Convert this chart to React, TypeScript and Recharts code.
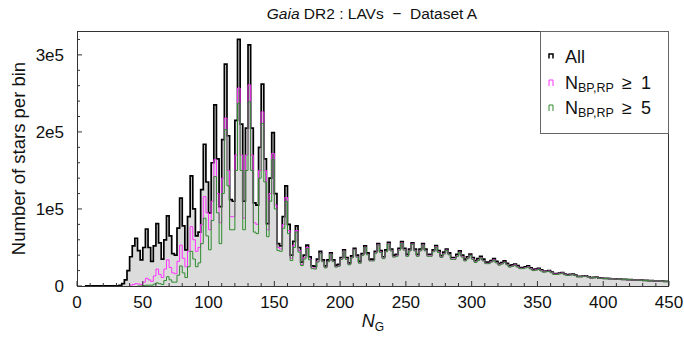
import React from 'react';
import { ComposedChart, Area, Line, XAxis, YAxis } from 'recharts';

// Bin start values of N_G (bin width 2, first bin is a wide near-empty bin)
const binStart = [
  6, 32, 34, 36, 38,
  40, 42, 44, 46, 48, 50, 52, 54, 56, 58,
  60, 62, 64, 66, 68, 70, 72, 74, 76, 78,
  80, 82, 84, 86, 88, 90, 92, 94, 96, 98,
  100, 102, 104, 106, 108, 110, 112, 114, 116, 118,
  120, 122, 124, 126, 128, 130, 132, 134, 136, 138,
  140, 142, 144, 146, 148, 150, 152, 154, 156, 158,
  160, 162, 164, 166, 168, 170, 172, 174, 176, 178,
  180, 182, 184, 186, 188, 190, 192, 194, 196, 198,
  200, 202, 204, 206, 208, 210, 212, 214, 216, 218,
  220, 222, 224, 226, 228, 230, 232, 234, 236, 238,
  240, 242, 244, 246, 248, 250, 252, 254, 256, 258,
  260, 262, 264, 266, 268, 270, 272, 274, 276, 278,
  280, 282, 284, 286, 288, 290, 292, 294, 296, 298,
  300, 302, 304, 306, 308, 310, 312, 314, 316, 318,
  320, 322, 324, 326, 328, 330, 332, 334, 336, 338,
  340, 342, 344, 346, 348, 350, 352, 354, 356, 358,
  360, 362, 364, 366, 368, 370, 372, 374, 376, 378,
  380, 382, 384, 386, 388, 390, 392, 394, 396, 398,
  400, 402, 404, 406, 408, 410, 412, 414, 416, 418,
  420, 422, 424, 426, 428, 430, 432, 434, 436, 438,
  440, 442, 444, 446, 448, 450,
];

// Stars per bin, in thousands
const allCounts = [
  0.3, 1, 3, 8, 20,
  38, 52, 62, 46, 34, 50, 74, 50, 32, 52,
  81, 56, 35, 60, 91, 65, 42, 40, 75, 114,
  78, 47, 90, 143, 100, 65, 70, 125, 184, 135,
  95, 160, 235, 165, 103, 190, 288, 195, 112, 110,
  215, 320, 210, 110, 205, 313, 205, 108, 105, 180,
  262, 165, 81, 140, 199, 120, 55, 52, 90, 130,
  80, 40, 58, 78, 50, 31, 40, 53, 38, 26,
  25.5, 35, 45, 34, 26, 34, 43, 34, 27, 28,
  37, 47, 37, 30, 39, 49, 40, 32, 42, 52,
  43, 35, 35, 45, 55, 46, 38, 47, 56.5, 48,
  40, 41, 49, 57.5, 49, 41, 48, 56, 48, 41,
  48, 55, 48, 41, 41, 47, 52.5, 46, 39.5, 44,
  48, 43, 37, 37, 41, 45.5, 40, 35, 38, 41.5,
  37, 33, 35.5, 38.5, 35, 31, 31, 33, 35.5, 32,
  29, 30.5, 32.5, 29.5, 26.5, 27.5, 28.5, 26.5, 24, 24,
  25, 26, 23.5, 21.5, 22, 23, 21, 19, 19.5, 20,
  18, 16, 16, 16.8, 17.5, 15.5, 14.5, 15, 15.5, 14,
  12.5, 12.5, 13, 13.3, 12, 11, 11.2, 11.5, 10.5, 10.2,
  10, 9.8, 9.5, 9.4, 9.2, 9, 8.9, 8.7, 8.6, 8.4,
  8.2, 8, 7.8, 7.7, 7.5, 7.3, 7.2, 7, 6.9, 6.7,
  6.5, 6.4, 6.2, 6.1, 6, 6,
];

const bp1Counts = [
  null, null, null, null, null,
  1, 2, 3, 2.5, 2, 5, 10, 8, 6, 13,
  22, 15, 11, 22, 34, 24, 17, 16, 32, 53,
  36, 25, 45, 77, 60, 45, 50, 80, 116, 95,
  73, 110, 164, 120, 82, 140, 218, 150, 90, 90,
  170, 257, 170, 88, 170, 261, 170, 82, 80, 150,
  226, 150, 73, 120, 172, 105, 50, 48, 80, 115,
  72, 36, 53, 72, 46, 28, 37, 50, 35, 23.5,
  23, 32, 42.5, 32, 24, 32, 41.5, 32, 25, 26,
  35, 45.5, 35, 28, 37, 47.5, 38, 30, 40, 50.5,
  41, 33, 33, 43, 53.5, 44, 36, 45, 55, 46,
  38, 39, 47, 56, 47, 39, 46, 54.5, 46, 39,
  46, 53.5, 46, 39, 39, 45, 51, 44, 37.5, 42,
  46.5, 41, 35, 35, 39, 44, 38, 33, 36, 40,
  35, 31, 33.5, 37, 33, 29.5, 29.5, 31.5, 34, 30.5,
  27.5, 29, 31, 28, 25, 26, 27.5, 25, 23, 23,
  24, 25, 22.5, 20.5, 21, 22, 20, 18.5, 19, 19.5,
  17.5, 15.5, 15.5, 16.3, 17, 15, 14, 14.5, 15, 13.6,
  12.2, 12.2, 12.7, 13, 11.8, 10.8, 11, 11.3, 10.3, 10.1,
  9.9, 9.7, 9.4, 9.3, 9.1, 8.9, 8.8, 8.6, 8.5, 8.3,
  8.1, 7.9, 7.7, 7.6, 7.4, 7.2, 7.1, 6.9, 6.8, 6.6,
  6.4, 6.3, 6.1, 6, 5.9, 5.9,
];

const bp5Counts = [
  null, null, null, null, null,
  null, null, null, 0, 0, 0.5, 1, 1, 1, 2.5,
  4, 3, 2, 7, 12, 8, 5, 5, 14, 26,
  17, 11, 25, 45, 35, 25, 30, 55, 88, 65,
  47, 85, 142, 95, 55, 120, 203, 130, 73, 73,
  150, 237, 150, 73, 150, 239, 150, 70, 68, 140,
  211, 135, 64, 110, 164, 100, 46, 45, 75, 110,
  68, 33, 50, 70, 44, 26.5, 35, 48.5, 34, 22.5,
  22, 31, 42, 31.5, 23.5, 31.5, 41, 31.5, 24.5, 25.5,
  34.5, 45, 34.5, 27.5, 36.5, 47, 37.5, 29.5, 39.5, 50,
  40.5, 32.5, 32.5, 42.5, 53, 43.5, 35.5, 44.5, 54.5, 45.5,
  37.5, 38.5, 46.5, 55.5, 46.5, 38.5, 45.5, 54, 45.5, 38.5,
  45.5, 53, 45.5, 38.5, 38.5, 44.5, 50.5, 43.5, 37, 41.5,
  46, 40.5, 34.5, 34.5, 38.5, 43.5, 37.5, 32.5, 35.5, 39.5,
  34.5, 30.5, 33, 36.5, 32.5, 29, 29, 31, 33.5, 30,
  27, 28.5, 30.5, 27.5, 24.5, 25.5, 27, 24.5, 22.5, 22.5,
  23.5, 24.5, 22, 20, 20.5, 21.5, 19.5, 18, 18.5, 19,
  17, 15, 15, 15.8, 16.5, 14.6, 13.7, 14.2, 14.7, 13.4,
  12, 12, 12.5, 12.8, 11.6, 10.7, 10.9, 11.2, 10.2, 10,
  9.8, 9.6, 9.4, 9.3, 9.1, 8.9, 8.8, 8.6, 8.5, 8.3,
  8.1, 7.9, 7.7, 7.6, 7.4, 7.2, 7.1, 6.9, 6.8, 6.6,
  6.4, 6.3, 6.1, 6, 5.9, 5.9,
];

const xTicks = [0, 10, 20, 30, 40, 50, 60, 70, 80, 90, 100, 110, 120, 130, 140, 150, 160, 170, 180, 190,
  200, 210, 220, 230, 240, 250, 260, 270, 280, 290, 300, 310, 320, 330, 340, 350, 360, 370, 380, 390,
  400, 410, 420, 430, 440, 450];
const yTicks = [0, 20, 40, 60, 80, 100, 120, 140, 160, 180, 200, 220, 240, 260, 280, 300, 320];
const yTickLabels: Record<number, string> = { 0: '0', 100: '1e5', 200: '2e5', 300: '3e5' };

const data = binStart.map((n, i) => ({ n, all: allCounts[i], bp1: bp1Counts[i], bp5: bp5Counts[i] }));

const FONT = '"Liberation Sans", Arial, sans-serif';
const PINK = '#ff33ff';
const GREEN = '#2e8b2e';

const XTick = (props: any) => {
  const { x, y, payload } = props;
  const v = payload.value;
  const major = v % 50 === 0;
  return (
    <g>
      <line x1={x} y1={y} x2={x} y2={y - (major ? 5 : 3)} stroke="#333" strokeWidth={1} />
      {major && (
        <text x={x} y={y + 22} textAnchor="middle" fontSize={17} fontFamily={FONT} fill="#111">
          {v}
        </text>
      )}
    </g>
  );
};

const YTick = (props: any) => {
  const { x, y, payload } = props;
  const v = payload.value;
  const label = yTickLabels[v];
  return (
    <g>
      <line x1={x} y1={y} x2={x + (label ? 5 : 3)} y2={y} stroke="#333" strokeWidth={1} />
      {label && (
        <text x={x - 13} y={y + 6} textAnchor="end" fontSize={17} fontFamily={FONT} fill="#111">
          {label}
        </text>
      )}
    </g>
  );
};

const PL = 77, PR = 669, PT = 31, PB = 286;

export default function App() {
  return (
    <div style={{ position: 'absolute', left: 0, top: 0, width: 684, height: 345, background: '#fff' }}>
      <ComposedChart
        width={684}
        height={345}
        data={data}
        margin={{ top: PT, right: 684 - PR, bottom: 345 - PB - 30, left: 0 }}
      >
        <XAxis
          dataKey="n"
          type="number"
          domain={[0, 450]}
          ticks={xTicks}
          interval={0}
          tick={<XTick />}
          tickSize={0}
          tickMargin={0}
          tickLine={false}
          axisLine={false}
          height={30}
          allowDataOverflow
        />
        <YAxis
          type="number"
          domain={[0, 331]}
          ticks={yTicks}
          interval={0}
          tick={<YTick />}
          tickSize={0}
          tickMargin={0}
          tickLine={false}
          axisLine={false}
          width={PL}
          allowDataOverflow
        />
        <Area
          dataKey="all"
          type="stepAfter"
          fill="#dcdcdc"
          fillOpacity={1}
          stroke="#000"
          strokeWidth={1.7}
          isAnimationActive={false}
          dot={false}
          activeDot={false}
        />
        <Line
          dataKey="bp1"
          type="stepAfter"
          stroke={PINK}
          strokeWidth={1}
          dot={false}
          activeDot={false}
          isAnimationActive={false}
        />
        <Line
          dataKey="bp5"
          type="stepAfter"
          stroke={GREEN}
          strokeWidth={1}
          dot={false}
          activeDot={false}
          isAnimationActive={false}
        />
      </ComposedChart>
      <svg
        width={684}
        height={345}
        style={{ position: 'absolute', left: 0, top: 0, pointerEvents: 'none' }}
        fontFamily={FONT}
      >
        <rect x={PL + 0.5} y={PT + 0.5} width={PR - PL - 1} height={PB - PT} fill="none" stroke="#333" strokeWidth={1} />
        <text x={372} y={19} textAnchor="middle" fontSize={15.5} fill="#111">
          <tspan fontStyle="italic">Gaia</tspan>
          {' DR2 : LAVs\u00a0 \u2212\u00a0 Dataset A'}
        </text>
        <text
          x={25}
          y={158.5}
          textAnchor="middle"
          fontSize={18.5}
          fill="#111"
          transform="rotate(-90 25 158.5)"
        >
          Number of stars per bin
        </text>
        <text x={373} y={327} textAnchor="middle" fontSize={18} fill="#111">
          <tspan fontStyle="italic">N</tspan>
          <tspan fontSize={12} dy={4}>G</tspan>
        </text>
        {/* Legend */}
        <rect x={540.5} y={31.5} width={128} height={102} fill="#fff" stroke="#666" strokeWidth={1} />
        <path d="M549,58.5 V54 H553 V58.5" fill="none" stroke="#000" strokeWidth={1.5} />
        <text x={565} y={63} fontSize={18} fill="#111">All</text>
        <path d="M549,86 V80 H553 V86" fill="none" stroke={PINK} strokeWidth={1} />
        <text x={565} y={88.5} fontSize={18} fill="#111">
          N<tspan fontSize={12.5} dy={3}>BP,RP</tspan>
          <tspan x={622} dy={-3}>{'\u2265'}</tspan>
          <tspan x={641}>1</tspan>
        </text>
        <path d="M549,111 V105 H553 V111" fill="none" stroke={GREEN} strokeWidth={1} />
        <text x={565} y={113.5} fontSize={18} fill="#111">
          N<tspan fontSize={12.5} dy={3}>BP,RP</tspan>
          <tspan x={622} dy={-3}>{'\u2265'}</tspan>
          <tspan x={641}>5</tspan>
        </text>
      </svg>
    </div>
  );
}
